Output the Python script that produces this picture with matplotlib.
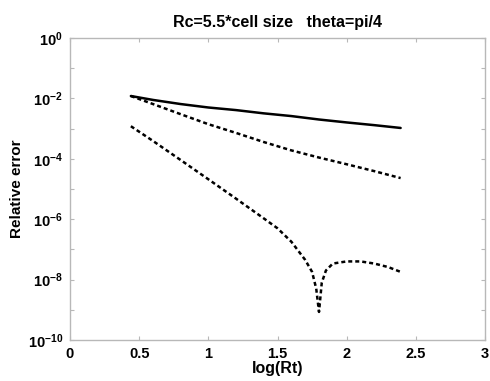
import numpy as np
import matplotlib
matplotlib.use('Agg')
import matplotlib.pyplot as plt

# values (x = log(Rt), y = relative error)
x_solid = [0.44, 0.6, 0.8, 1.0, 1.2, 1.4, 1.6, 1.8, 2.0, 2.2, 2.39]
err_solid = [1.2e-2, 8.9e-3, 6.5e-3, 5.0e-3, 4.1e-3, 3.2e-3, 2.6e-3, 2.0e-3, 1.6e-3, 1.3e-3, 1.05e-3]

x_upper = [0.44, 0.6, 0.8, 1.0, 1.2, 1.4, 1.6, 1.8, 2.0, 2.2, 2.39]
err_upper = [1.2e-2, 6.5e-3, 3.0e-3, 1.4e-3, 7.2e-4, 3.6e-4, 1.9e-4, 1.1e-4, 6.6e-5, 3.9e-5, 2.3e-5]

x_lower = [0.44, 0.6, 0.8, 1.0, 1.2, 1.4, 1.5, 1.6, 1.7, 1.75, 1.78, 1.80,
           1.82, 1.85, 1.9, 2.0, 2.1, 2.2, 2.3, 2.39]
err_lower = [1.2e-3, 3.9e-4, 9.1e-5, 2.1e-5, 4.8e-6, 1.07e-6, 5.0e-7, 1.8e-7, 4.5e-8,
             1.8e-8, 5.0e-9, 8.5e-10, 7.9e-9, 2.0e-8, 3.4e-8, 4.0e-8, 4.0e-8, 3.4e-8,
             2.6e-8, 1.8e-8]

xticks = [0, 0.5, 1, 1.5, 2, 2.5, 3]
xticklabels = ['0', '0.5', '1', '1.5', '2', '2.5', '3']
ytick_exps = list(range(0, -11, -1))

plt.rcParams['font.family'] = ['Liberation Sans', 'DejaVu Sans']
plt.rcParams['mathtext.fontset'] = 'custom'
plt.rcParams['mathtext.rm'] = 'Liberation Sans:bold'
plt.rcParams['mathtext.it'] = 'Liberation Sans:bold'

fig = plt.figure(figsize=(4.9, 3.81), dpi=100)
ax = fig.add_axes([70/490, 41/381, 415/490, 302/381])

ax.semilogy(x_solid, err_solid, color='black', lw=1.8, solid_capstyle='round')
ax.semilogy(x_upper, err_upper, color='black', lw=1.8, linestyle=(0, (1.6, 1.2)))
ax.semilogy(x_lower, err_lower, color='black', lw=1.8, linestyle=(0, (1.6, 1.2)))

ax.set_xlim(0, 3)
ax.set_ylim(1e-10, 1)
ax.set_xticks(xticks)
ax.set_xticklabels(xticklabels, fontweight='bold', fontsize=10.5)
ax.set_yticks([10.0**e for e in ytick_exps])
ax.set_yticklabels([r'$10^{%d}$' % e if e % 2 == 0 else '' for e in ytick_exps], fontsize=10.5)
ax.minorticks_off()
ax.tick_params(direction='in', length=3, color='#b8b8b8', top=True, right=True, pad=5)

for s in ax.spines.values():
    s.set_color('#b8b8b8')
    s.set_linewidth(1.0)

ax.set_title('Rc=5.5*cell size   theta=pi/4', fontweight='bold', fontsize=11.5, pad=8)
ax.set_xlabel('log(Rt)', fontweight='bold', fontsize=11.5, labelpad=0)
ax.set_ylabel('Relative error', fontweight='bold', fontsize=11, labelpad=3)

fig.savefig('out.png', dpi=100)
